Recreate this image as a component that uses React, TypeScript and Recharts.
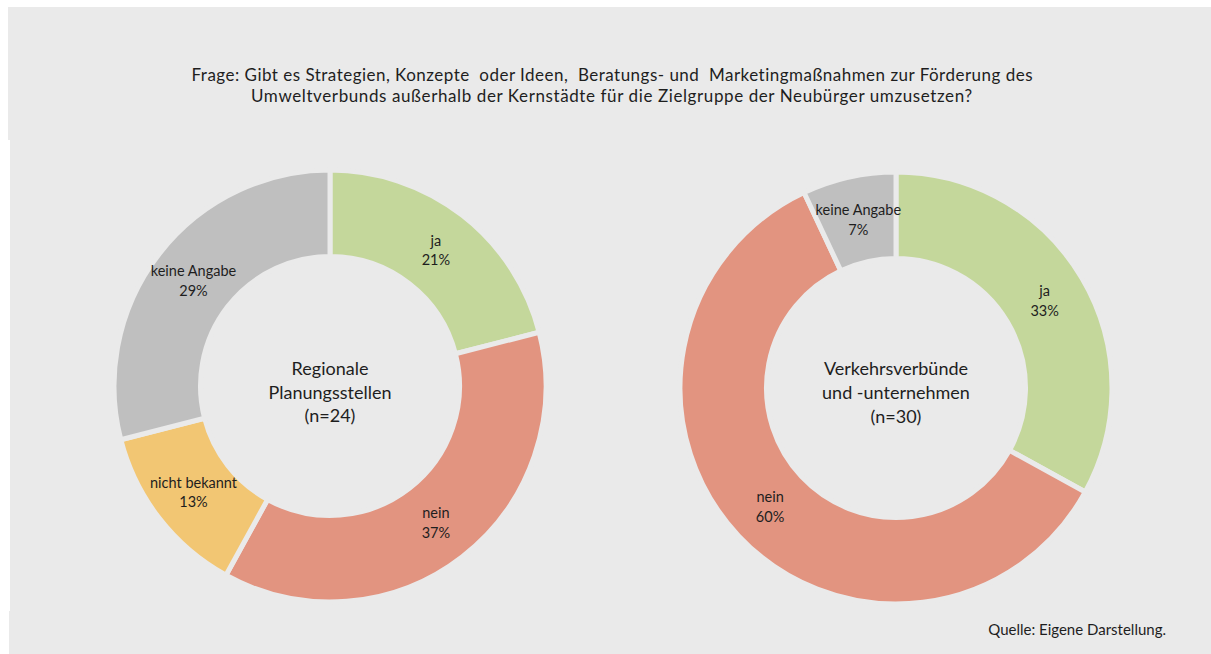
import React from 'react';
import { PieChart, Pie, Cell } from 'recharts';

const titleLines = [
  'Frage: Gibt es Strategien, Konzepte  oder Ideen,  Beratungs- und  Marketingmaßnahmen zur Förderung des',
  'Umweltverbunds außerhalb der Kernstädte für die Zielgruppe der Neubürger umzusetzen?',
];
const sourceText = 'Quelle: Eigene Darstellung.';

const leftCategories = ['ja', 'nein', 'nicht bekannt', 'keine Angabe'];
const leftValues = [21, 37, 13, 29];
const leftCenterLines = ['Regionale', 'Planungsstellen', '(n=24)'];

const rightCategories = ['ja', 'nein', 'keine Angabe'];
const rightValues = [33, 60, 7];
const rightCenterLines = ['Verkehrsverbünde', 'und -unternehmen', '(n=30)'];

const colorMap: Record<string, string> = {
  ja: '#c4d79b',
  nein: '#e29480',
  'nicht bekannt': '#f2c673',
  'keine Angabe': '#bfbfbf',
};

const BG = '#eaeaea';
const FONT = 'Lato, "Open Sans", sans-serif';
const TEXT = '#1e1e1e';

const leftData = leftCategories.map((name, i) => ({ name, value: leftValues[i] }));
const rightData = rightCategories.map((name, i) => ({ name, value: rightValues[i] }));

const RAD = Math.PI / 180;
const renderLabel = (p: any) => {
  const r = p.innerRadius + (p.outerRadius - p.innerRadius) / 2;
  const x = p.cx + r * Math.cos(-p.midAngle * RAD);
  const y = p.cy + r * Math.sin(-p.midAngle * RAD);
  const name = p.payload?.name ?? p.name;
  const value = p.payload?.value ?? p.value;
  return (
    <text x={x} y={y} textAnchor="middle" fontSize={14.5} fill={TEXT} fontFamily={FONT}>
      <tspan x={x} y={y - 4}>{name}</tspan>
      <tspan x={x} y={y + 15.5}>{value}%</tspan>
    </text>
  );
};

const W = 1211;
const H = 654;
const LCX = 330;
const LCY = 386;
const RCX = 896;
const RCY = 388;
const OUTER = 216;
const INNER = 129.5;

export default function App() {
  return (
    <div style={{ position: 'absolute', left: 0, top: 0, width: W, height: H, background: '#ffffff', overflow: 'hidden', fontVariantLigatures: 'none' }}>
      <div style={{ position: 'absolute', left: 8, top: 7, width: W - 8, height: 133, background: BG }} />
      <div style={{ position: 'absolute', left: 10, top: 140, width: W - 10, height: 471, background: BG }} />
      <div style={{ position: 'absolute', left: 9, top: 611, width: W - 9, height: H - 611, background: BG }} />
      <div style={{ position: 'absolute', left: 0, top: 0 }}>
        <PieChart width={W} height={H} margin={{ top: 0, right: 0, bottom: 0, left: 0 }}>
          <Pie
            data={leftData}
            dataKey="value"
            nameKey="name"
            cx={LCX}
            cy={LCY}
            innerRadius={INNER}
            outerRadius={OUTER}
            startAngle={90}
            endAngle={-270}
            stroke={BG}
            strokeWidth={5}
            label={renderLabel}
            labelLine={false}
            isAnimationActive={false}
          >
            {leftData.map((d) => (
              <Cell key={d.name} fill={colorMap[d.name]} />
            ))}
          </Pie>
          <Pie
            data={rightData}
            dataKey="value"
            nameKey="name"
            cx={RCX}
            cy={RCY}
            innerRadius={INNER}
            outerRadius={OUTER}
            startAngle={90}
            endAngle={-270}
            stroke={BG}
            strokeWidth={5}
            label={renderLabel}
            labelLine={false}
            isAnimationActive={false}
          >
            {rightData.map((d) => (
              <Cell key={d.name} fill={colorMap[d.name]} />
            ))}
          </Pie>
        </PieChart>
      </div>
      <svg width={W} height={H} style={{ position: 'absolute', left: 0, top: 0, pointerEvents: 'none', fontVariantLigatures: 'none' }}>
        <g fontFamily={FONT} fill={TEXT}>
          <text x={612} y={81} textAnchor="middle" fontSize={17} textLength={841} lengthAdjust="spacing" style={{ whiteSpace: 'pre' }}>
            {titleLines[0]}
          </text>
          <text x={611.5} y={102} textAnchor="middle" fontSize={17} textLength={721} lengthAdjust="spacing">
            {titleLines[1]}
          </text>
          {leftCenterLines.map((t, i) => (
            <text key={'l' + i} x={LCX} y={375 + i * 23.5} textAnchor="middle" fontSize={18}>
              {t}
            </text>
          ))}
          {rightCenterLines.map((t, i) => (
            <text key={'r' + i} x={RCX} y={375 + i * 24} textAnchor="middle" fontSize={18}>
              {t}
            </text>
          ))}
          <text x={1166} y={635} textAnchor="end" fontSize={15}>
            {sourceText}
          </text>
        </g>
      </svg>
    </div>
  );
}
